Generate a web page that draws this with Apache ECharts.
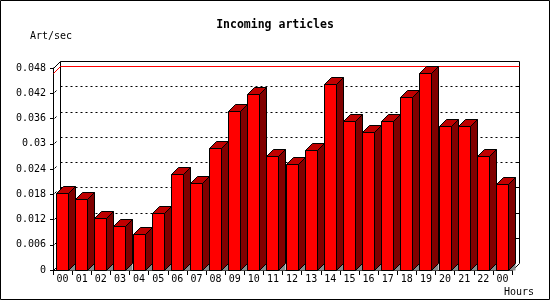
<!DOCTYPE html>
<html><head><meta charset="utf-8">
<script src="https://cdn.jsdelivr.net/npm/echarts@6/dist/echarts.min.js"></script>
<style>html,body{margin:0;padding:0;background:#fff}#c{width:550px;height:300px}</style>
</head><body><div id="c"></div>
<script>
// ---- data ----
const categories = ['00','01','02','03','04','05','06','07','08','09','10','11','12','13','14','15','16','17','18','19','20','21','22','00'];
const values = [0.0184, 0.0168, 0.0123, 0.0104, 0.0085, 0.0135, 0.0228, 0.0206, 0.0291, 0.0377, 0.0419, 0.0270,
                0.0253, 0.0284, 0.0443, 0.0355, 0.0329, 0.0355, 0.0410, 0.0469, 0.0343, 0.0341, 0.0270, 0.0204];
const gridTicks = [0.006, 0.012, 0.018, 0.024, 0.03, 0.036, 0.042];
const titleText = 'Incoming articles';
const yName = 'Art/sec';
const xName = 'Hours';

// ---- drawing ----
const D = 7;
const FONT = '"DejaVu Sans Mono", monospace';
const px = v => Math.round(v) + 0.5;
const chart = echarts.init(document.getElementById('c'), null, {renderer: 'canvas'});
const ls = {stroke: '#000', lineWidth: 1, fill: null};

function renderFrame(params, api) {
  const cs = params.coordSys;
  const L = px(cs.x), R = px(cs.x + cs.width), T = px(cs.y), B = px(cs.y + cs.height);
  return {type: 'group', children: [
    {type: 'polyline', shape: {points: [[L, T], [L + D, T - D], [R + D, T - D], [R + D, B - D], [R, B]]}, style: ls},
    {type: 'line', shape: {x1: L + D, y1: T - D, x2: L + D, y2: B - D}, style: ls},
    {type: 'line', shape: {x1: L, y1: B, x2: L + D, y2: B - D}, style: ls}
  ]};
}
function renderGrid(params, api) {
  const cs = params.coordSys;
  const y = px(api.coord([0, api.value(1)])[1]);
  const L = px(cs.x), R = px(cs.x + cs.width);
  return {type: 'group', children: [
    {type: 'line', shape: {x1: L + D, y1: y - D, x2: R + D, y2: y - D}, style: {stroke: '#000', lineWidth: 1, lineDash: [2, 3]}},
    {type: 'line', shape: {x1: L + 1, y1: y - 1, x2: L + 3, y2: y - 3}, style: ls},
    {type: 'line', shape: {x1: R + D - 3, y1: y - D, x2: R + D, y2: y - D}, style: ls}
  ]};
}
function renderMax(params, api) {
  const cs = params.coordSys;
  const y = px(api.coord([0, api.value(1)])[1]);
  const L = px(cs.x), R = px(cs.x + cs.width);
  return {type: 'polyline', shape: {points: [[L, y], [L + D, y - D], [R + D, y - D]]}, style: {stroke: '#ff0000', lineWidth: 1, fill: null}};
}
function renderBar(params, api) {
  const c = api.coord([api.value(0), api.value(1)]);
  const b = api.coord([api.value(0), 0]);
  const bw = 12;
  const xL = Math.floor(c[0] - bw / 2) + 0.5, xR = xL + bw;
  const yT = px(c[1]), yB = px(b[1]);
  return {type: 'group', children: [
    {type: 'polygon', shape: {points: [[xR, yB], [xR + D, yB - D], [xR + D, yB]]}, style: {fill: '#8c8c8c', stroke: null}},
    {type: 'polygon', shape: {points: [[xR, yT], [xR + D, yT - D], [xR + D, yB - D], [xR, yB]]}, style: {fill: '#800000', stroke: '#000', lineWidth: 1}},
    {type: 'polygon', shape: {points: [[xL, yT], [xL + D, yT - D], [xR + D, yT - D], [xR, yT]]}, style: {fill: '#c00000', stroke: '#000', lineWidth: 1}},
    {type: 'rect', shape: {x: xL, y: yT, width: bw, height: yB - yT}, style: {fill: '#ff0000', stroke: '#000', lineWidth: 1}}
  ]};
}

chart.setOption({
  animation: false,
  backgroundColor: '#fff',
  title: {text: titleText, left: 'center', top: 19, padding: 0,
          textStyle: {fontFamily: FONT, fontWeight: 'bold', fontSize: 11.5, color: '#000'}},
  graphic: [
    {type: 'rect', shape: {x: 0.5, y: 0.5, width: 549, height: 299}, style: {fill: null, stroke: '#000', lineWidth: 1}, silent: true},
    {type: 'text', left: 30, top: 31, style: {text: yName, font: '10px ' + FONT, fill: '#000'}},
    {type: 'text', left: 504, top: 287, style: {text: xName, font: '10px ' + FONT, fill: '#000'}}
  ],
  grid: {left: 53, right: 38, top: 68, bottom: 30},
  xAxis: {
    type: 'category', data: categories, boundaryGap: true,
    axisLine: {show: true, lineStyle: {color: '#000', width: 1}},
    axisTick: {show: true, length: 5, lineStyle: {color: '#000'}},
    axisLabel: {interval: 0, margin: 4, fontFamily: FONT, fontSize: 10, color: '#000'},
    splitLine: {show: false}
  },
  yAxis: {
    type: 'value', min: 0, max: 0.048, interval: 0.006,
    axisLine: {show: true, lineStyle: {color: '#000', width: 1}},
    axisTick: {show: true, length: 3, lineStyle: {color: '#000'}},
    axisLabel: {margin: 7, fontFamily: FONT, fontSize: 10, color: '#000',
                formatter: v => String(parseFloat(v.toFixed(3)))},
    splitLine: {show: false}
  },
  series: [
    {type: 'custom', z: 1, renderItem: renderFrame, data: [[0, 0]], silent: true},
    {type: 'custom', z: 2, renderItem: renderGrid, data: gridTicks.map(v => [0, v]), silent: true},
    {type: 'custom', z: 3, renderItem: renderMax, data: [[0, Math.max(...values)]], silent: true},
    {type: 'custom', z: 4, renderItem: renderBar, data: values.map((v, i) => [i, v]), encode: {x: 0, y: 1}}
  ]
});
</script></body></html>
